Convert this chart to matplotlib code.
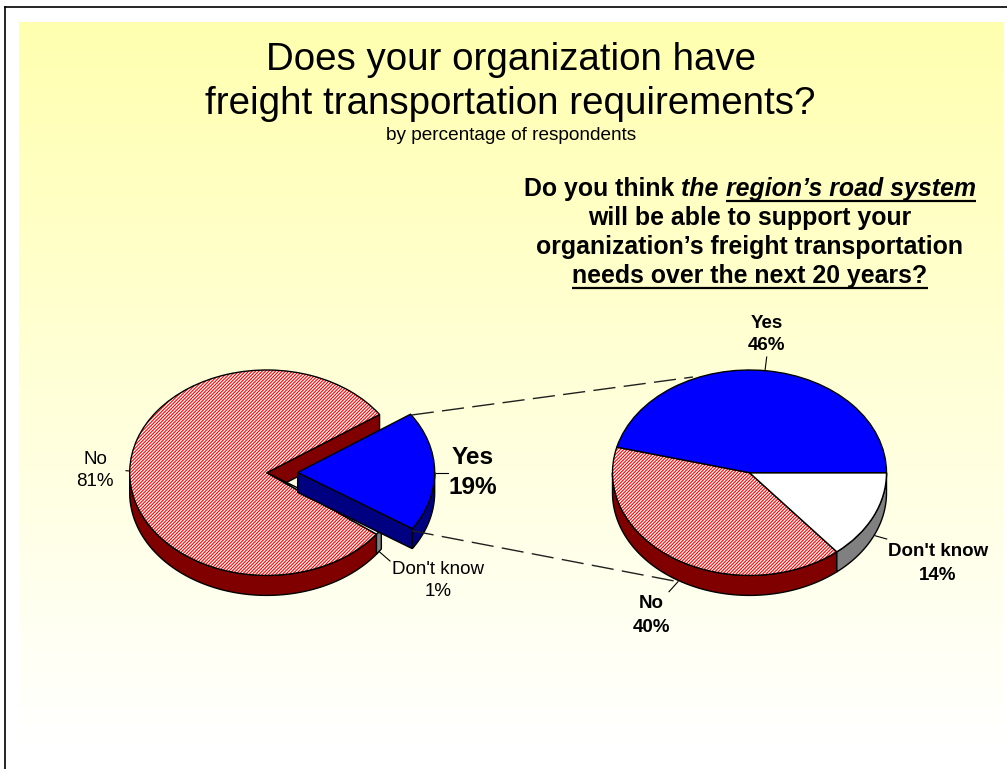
import numpy as np
import matplotlib
matplotlib.use("Agg")
from matplotlib import pyplot as plt
from matplotlib.colors import LinearSegmentedColormap
from matplotlib.patches import Polygon, Wedge

W, H = 1007, 769

# data
left_labels = ["Yes", "No", "Don't know"]
left_values = [19, 81, 1]
left_explode = [0.226, 0, 0]
right_labels = ["Yes", "No", "Don't know"]
right_values = [46, 40, 14]

plt.rcParams['font.family'] = ['Liberation Sans', 'DejaVu Sans']
plt.rcParams['hatch.linewidth'] = 0.8

top_col = {"Yes": "#0000ff", "No": "#ffffff", "Don't know": "#ffffff"}
side_col = {"Yes": "#000080", "No": "#800000", "Don't know": "#808080"}
order = {"Yes": 30, "No": 10, "Don't know": 20}

fig = plt.figure(figsize=(W / 100, H / 100), dpi=100, facecolor='white')

# page layer in pixel coords
page = fig.add_axes([0, 0, 1, 1])
page.set_xlim(0, W)
page.set_ylim(H, 0)
page.axis('off')
cmap = LinearSegmentedColormap.from_list('bg', ['#ffffb0', '#ffffff'])
page.imshow(np.linspace(0, 1, 256).reshape(-1, 1), cmap=cmap, aspect='auto',
            extent=[19, 1004, 745, 22], zorder=0)
page.set_xlim(0, W)
page.set_ylim(H, 0)
page.plot([4.5, W], [6.5, 6.5], color='black', lw=1.2, zorder=1)
page.plot([4.5, 4.5], [6.5, H], color='black', lw=1.2, zorder=1)

RX, RY, DEPTH, LIM = 137.0, 102.7, 20.0, 1.4


def sides(ax, w, label, d):
    # outer wall of the slice, only the part facing the viewer
    z = order[label]
    c = side_col[label]
    for lo, hi in [(w.theta1, w.theta2), (w.theta1 + 360, w.theta2 + 360)]:
        lo, hi = max(lo, 180), min(hi, 360)
        if hi > lo:
            t = np.radians(np.linspace(lo, hi, 120))
            x = w.center[0] + np.cos(t)
            y = w.center[1] + np.sin(t)
            pts = np.r_[np.c_[x, y], np.c_[x, y - d][::-1]]
            ax.add_patch(Polygon(pts, fc=c, ec='black', lw=1, zorder=z - 1))


def cut_face(ax, w, label, d):
    z = order[label]
    t = np.radians(w.theta1)
    if np.cos(t) <= 0:
        return
    cx, cy = w.center
    ex, ey = cx + np.cos(t), cy + np.sin(t)
    pts = [(cx, cy), (ex, ey), (ex, ey - d), (cx, cy - d)]
    ax.add_patch(Polygon(pts, fc=side_col[label], ec='black', lw=1, zorder=z - 2))


def pie3d(cx, cy, labels, values, start, explode=None, faces=()):
    ax = fig.add_axes([(cx - LIM * RX) / W, 1 - (cy + LIM * RY) / H,
                       2 * LIM * RX / W, 2 * LIM * RY / H])
    wedges, _ = ax.pie(values, explode=explode, startangle=start,
                       colors=[top_col[l] for l in labels],
                       hatch=['/' * 10 if l == "No" else '' for l in labels],
                       wedgeprops={'linewidth': 0})
    ax.set_aspect('auto')
    ax.set_xlim(-LIM, LIM)
    ax.set_ylim(-LIM, LIM)
    ax.patch.set_visible(False)
    d = DEPTH / RY
    for w, l in zip(wedges, labels):
        w.set_zorder(order[l])
        if l == "No":
            w.set_edgecolor('#ff0000')
        sides(ax, w, l, d)
        if l in faces:
            cut_face(ax, w, l, d)
        ax.add_patch(Wedge(w.center, w.r, w.theta1, w.theta2, fill=False,
                           ec='black', lw=1, zorder=order[l] + 1))
    return ax


pie3d(266.7, 472.7, left_labels, left_values, -33.2, left_explode, faces=("Yes", "No"))
pie3d(749.5, 472.7, right_labels, right_values, 0)

# overlay for text and connector lines
over = fig.add_axes([0, 0, 1, 1])
over.set_xlim(0, W)
over.set_ylim(H, 0)
over.axis('off')
over.patch.set_visible(False)

dash = dict(color='#202020', lw=1, dashes=(16, 6))
over.plot([411.7, 693], [415, 377], **dash)
over.plot([411.7, 678], [530.7, 581.7], **dash)

leaders = [((126, 129.5), (470.7, 471)), ((435.7, 448), (472.7, 472.7)),
           ((379.3, 390), (551.7, 561)), ((766.7, 765), (357, 370.7)),
           ((875, 886.7), (535.7, 539)), ((678, 669), (581.7, 591.7))]
for xs, ys in leaders:
    over.plot(xs, ys, color='black', lw=0.8)


def label(x, y, s, size=13.5, weight='normal', **kw):
    over.text(x, y, s, ha='center', va='center', fontsize=size, fontweight=weight, **kw)


label(510.5, 60, "Does your organization have", size=27.7)
label(510.5, 104, "freight transportation requirements?", size=27.7)
label(511, 135, "by percentage of respondents", size=13.7)

label(95, 459, "No")
label(95, 481, "81%")
label(473, 458, left_labels[0], size=17.6, weight='bold')
label(473, 487, "%d%%" % left_values[0], size=17.6, weight='bold')
label(438, 570, left_labels[2])
label(438, 592, "%d%%" % left_values[2])

label(766.7, 323, right_labels[0], weight='bold')
label(766.7, 346, "%d%%" % right_values[0], weight='bold')
label(938, 551.7, right_labels[2], weight='bold')
label(938, 575, "%d%%" % right_values[2], weight='bold')
label(651.7, 603, right_labels[1], weight='bold')
label(651.7, 627, "%d%%" % right_values[1], weight='bold')

# question block, runs are laid out by measured width
renderer = fig.canvas.get_renderer()
Q = 17.9


def runs(xc, y, parts):
    items = []
    total = 0
    for s, style, ul in parts:
        t = over.text(0, y, s, ha='left', va='center', fontsize=Q, fontweight='bold',
                      fontstyle=style)
        t.set_parse_math(False)
        wd = t.get_window_extent(renderer).width
        # trailing spaces are not always measured
        if s.endswith(' '):
            wd = over.text(0, y, s.rstrip() + ' |', fontsize=Q, fontweight='bold',
                           fontstyle=style, alpha=0).get_window_extent(renderer).width
            wd -= over.text(0, y, '|', fontsize=Q, fontweight='bold', fontstyle=style,
                            alpha=0).get_window_extent(renderer).width
        items.append((t, wd, ul))
        total += wd
    x = xc - total / 2
    for t, wd, ul in items:
        t.set_x(x)
        if ul:
            over.plot([x, x + wd], [y + 11.5, y + 11.5], color='black', lw=1.6,
                      solid_capstyle='butt')
        x += wd


runs(750, 189, [("Do you think ", 'normal', False), ("the ", 'italic', False),
                ("region\u2019s road system", 'italic', True)])
runs(750, 218, [("will be able to support your", 'normal', False)])
runs(750, 247, [("organization\u2019s freight transportation", 'normal', False)])
runs(750, 276, [("needs over the next 20 years?", 'normal', True)])

fig.savefig('out.png', dpi=100)
